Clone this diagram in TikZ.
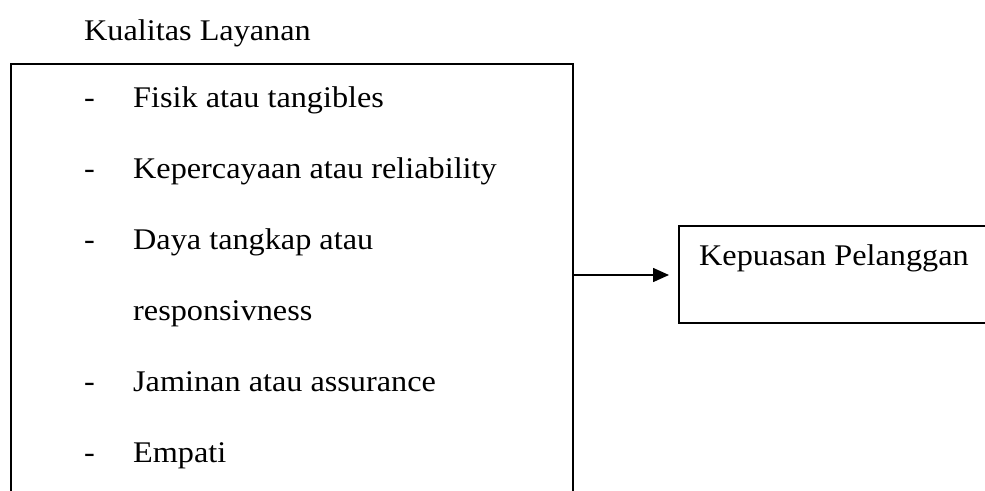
\documentclass[tikz,border=0pt]{standalone}
\usepackage{fontspec}
\setmainfont{Liberation Serif}
\usetikzlibrary{arrows.meta}
\newcommand{\stx}[1]{\scalebox{1.075}[1]{#1}}
\tikzset{
  frame/.style={draw, line width=1.8pt, rectangle, inner sep=0pt},
  txt/.style={anchor=base west, inner sep=0pt, font=\fontsize{30}{32}\selectfont},
  conn/.style={line width=1.6pt, -{Triangle[length=16pt,width=14pt]}}
}
\begin{document}
\begin{tikzpicture}[x=1pt,y=-1pt]
\useasboundingbox (0,0) rectangle (985,490);
\clip (0,0) rectangle (985,490);
\node[txt] (title) at (84,40) {\stx{Kualitas Layanan}};
\node[frame, anchor=north west, minimum width=562pt, minimum height=460pt] (L) at (10,63) {};
\node[frame, anchor=north west, minimum width=340pt, minimum height=97pt] (R) at (678,225) {};
\node[txt] (rt) at (699,265) {\stx{Kepuasan Pelanggan}};
\foreach \n/\y/\t in {a/107/Fisik atau tangibles, b/178/Kepercayaan atau reliability, c/249/Daya tangkap atau, e/391/Jaminan atau assurance, f/462/Empati}{
  \node[txt] (d\n) at (84,\y) {\stx{-}};
  \node[txt] (t\n) at (133,\y) {\stx{\t}};
}
\node[txt] (td) at (133,320) {\stx{responsivness}};
\coordinate (s) at (L.east |- 0,275);
\coordinate (e) at (669,275);
\draw[conn] (s) -- (e);
\end{tikzpicture}
\end{document}
